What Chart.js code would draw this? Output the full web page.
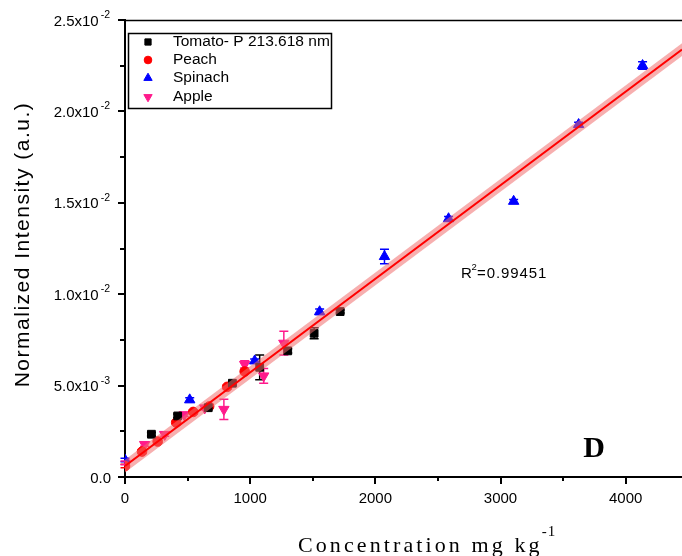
<!DOCTYPE html>
<html>
<head>
<meta charset="utf-8">
<script src="https://cdn.jsdelivr.net/npm/chart.js@4.4.1/dist/chart.umd.min.js"></script>
<style>
  html, body { margin: 0; padding: 0; background: #fff; overflow: hidden; }
  #wrap { width: 682px; height: 556px; }
</style>
</head>
<body>
<div id="wrap"><canvas id="chart" width="682" height="556"></canvas></div>
<script>
// values
const tomatoX = [211, 421, 665, 858, 1076, 1300, 1511, 1719]
const tomatoY = [0.00234, 0.00334, 0.00379, 0.00513, 0.00600, 0.00690, 0.00786, 0.00905]
const tomatoErr = [0.0001, 0.0001, 0.0001, 0.0001, 0.00068, 0.00012, 0.0003, 0.00008]

const peachX = [0, 136, 261, 409, 545, 672, 816, 956]
const peachY = [0.00060, 0.00139, 0.00194, 0.00298, 0.00356, 0.00386, 0.00493, 0.00577]
const peachErr = [0.0001, 0.0001, 0.0001, 0.0001, 0.0001, 0.0001, 0.0001, 0.0001]

const spinachX = [0, 517, 1036, 1555, 2073, 2585, 3105, 3624, 4135]
const spinachY = [0.00093, 0.00422, 0.00635, 0.00904, 0.01206, 0.01413, 0.01508, 0.01928, 0.02251]
const spinachErr = [0.0001, 0.00012, 0.0001, 0.00015, 0.0004, 0.00012, 0.0001, 0.00012, 0.0002]

const appleX = [0, 157, 317, 473, 637, 790, 956, 1108, 1269]
const appleY = [0.00077, 0.00178, 0.00233, 0.00341, 0.00378, 0.00370, 0.00616, 0.00553, 0.00732]
const appleErr = [0.0001, 0.0001, 0.0001, 0.0001, 0.0001, 0.00055, 0.0002, 0.0004, 0.00065]

// fitted line and its band, end points
const fitX = [0, 4450]
const fitY = [0.00060, 0.02338]
const bandLowY = [0.00025, 0.02303]
const bandHighY = [0.00095, 0.02373]

const xTicks = [0, 1000, 2000, 3000, 4000]
const yTicks = [0, 0.005, 0.01, 0.015, 0.02, 0.025]
const yTickLabels = [["0.0", ""], ["5.0x10", "-3"], ["1.0x10", "-2"], ["1.5x10", "-2"], ["2.0x10", "-2"], ["2.5x10", "-2"]]

const series = [
  { label: "Tomato- P 213.618 nm", xs: tomatoX, ys: tomatoY, errs: tomatoErr, color: "#000000", style: "rect", radius: 5.5, rotation: 0 },
  { label: "Peach", xs: peachX, ys: peachY, errs: peachErr, color: "#ff0000", style: "circle", radius: 4.8, rotation: 0 },
  { label: "Spinach", xs: spinachX, ys: spinachY, errs: spinachErr, color: "#0000ff", style: "triangle", radius: 6, rotation: 0 },
  { label: "Apple", xs: appleX, ys: appleY, errs: appleErr, color: "#ff1a8c", style: "triangle", radius: 6, rotation: 180 }
]

const toPoints = (xs, ys) => xs.map((x, i) => ({ x: x, y: ys[i] }))

const pointSets = series.map((s) => ({
  label: s.label,
  data: toPoints(s.xs, s.ys),
  showLine: false,
  pointStyle: s.style,
  pointRotation: s.rotation,
  pointRadius: s.radius,
  backgroundColor: s.color,
  borderColor: s.color,
  borderWidth: 1,
  order: 2
}))

const fitSets = [
  { label: "band high", data: toPoints(fitX, bandHighY), showLine: true, pointRadius: 0, borderWidth: 0, borderColor: "rgba(0,0,0,0)", fill: false, order: 1 },
  { label: "band low", data: toPoints(fitX, bandLowY), showLine: true, pointRadius: 0, borderWidth: 0, borderColor: "rgba(0,0,0,0)", backgroundColor: "rgba(240,110,110,0.55)", fill: "-1", order: 1 },
  { label: "fit", data: toPoints(fitX, fitY), showLine: true, pointRadius: 0, borderWidth: 2, borderColor: "#ff0000", fill: false, order: 0 }
]

const errorBars = {
  id: "errorBars",
  beforeDatasetsDraw(chart) {
    const ctx = chart.ctx
    const xs = chart.scales.x
    const ys = chart.scales.y
    ctx.save()
    ctx.lineWidth = 1.5
    series.forEach((s) => {
      ctx.strokeStyle = s.color
      s.xs.forEach((x, i) => {
        const px = xs.getPixelForValue(x)
        const top = ys.getPixelForValue(s.ys[i] + s.errs[i])
        const bot = ys.getPixelForValue(s.ys[i] - s.errs[i])
        ctx.beginPath()
        ctx.moveTo(px, top); ctx.lineTo(px, bot)
        ctx.moveTo(px - 4.5, top); ctx.lineTo(px + 4.5, top)
        ctx.moveTo(px - 4.5, bot); ctx.lineTo(px + 4.5, bot)
        ctx.stroke()
      })
    })
    ctx.restore()
  }
}

const decorations = {
  id: "decorations",
  afterDraw(chart) {
    const ctx = chart.ctx
    const area = chart.chartArea
    const xs = chart.scales.x
    const ys = chart.scales.y
    ctx.save()
    ctx.strokeStyle = "#000"
    ctx.fillStyle = "#000"

    // top frame
    ctx.lineWidth = 1.5
    ctx.beginPath()
    ctx.moveTo(area.left, area.top + 0.5)
    ctx.lineTo(area.right, area.top + 0.5)
    ctx.stroke()

    // tick marks
    ctx.lineWidth = 2
    ctx.beginPath()
    for (let v = 0; v <= 4500; v += 500) {
      const px = Math.round(xs.getPixelForValue(v))
      if (px > area.right) break
      const len = v % 1000 === 0 ? 7 : 4
      ctx.moveTo(px, area.bottom)
      ctx.lineTo(px, area.bottom + len)
    }
    for (let k = 0; k <= 10; k++) {
      const py = Math.round(ys.getPixelForValue(k * 0.0025))
      const len = k % 2 === 0 ? 7 : 5
      ctx.moveTo(area.left, py)
      ctx.lineTo(area.left - len, py)
    }
    ctx.stroke()

    // x tick labels
    ctx.font = "15px 'Liberation Sans', Arial, sans-serif"
    ctx.textAlign = "center"
    ctx.textBaseline = "middle"
    xTicks.forEach((v) => {
      ctx.fillText(String(v), xs.getPixelForValue(v), 499)
    })

    // y tick labels with exponents
    ctx.textAlign = "left"
    ctx.textBaseline = "alphabetic"
    yTicks.forEach((v, i) => {
      const [main, sup] = yTickLabels[i]
      const py = ys.getPixelForValue(v)
      ctx.font = "10.5px 'Liberation Sans', Arial, sans-serif"
      const supW = sup ? ctx.measureText(sup).width + 3 : 0
      ctx.font = "15px 'Liberation Sans', Arial, sans-serif"
      const mainW = ctx.measureText(main).width
      const right = 111
      ctx.fillText(main, right - supW - mainW, py + 5.5)
      if (sup) {
        ctx.font = "10.5px 'Liberation Sans', Arial, sans-serif"
        ctx.fillText(sup, right - supW + 2, py - 2)
      }
    })

    // y axis title
    ctx.save()
    ctx.translate(23, (area.top + area.bottom) / 2 - 4)
    ctx.rotate(-Math.PI / 2)
    ctx.font = "21px 'Liberation Sans', Arial, sans-serif"
    ctx.letterSpacing = "1.5px"
    ctx.textAlign = "center"
    ctx.textBaseline = "middle"
    ctx.fillText("Normalized Intensity (a.u.)", 0, 0)
    ctx.restore()

    // x axis title
    ctx.font = "22px 'Liberation Serif', 'Times New Roman', serif"
    ctx.letterSpacing = "3.1px"
    ctx.textAlign = "left"
    ctx.textBaseline = "alphabetic"
    ctx.fillText("Concentration mg kg", 298, 552)
    const tw = ctx.measureText("Concentration mg kg").width
    ctx.font = "15px 'Liberation Serif', 'Times New Roman', serif"
    ctx.letterSpacing = "1px"
    ctx.fillText("-1", 298 + tw - 1, 536)
    ctx.letterSpacing = "0px"

    // R squared note
    ctx.font = "15px 'Liberation Sans', Arial, sans-serif"
    ctx.fillText("R", 461, 278)
    ctx.font = "9.5px 'Liberation Sans', Arial, sans-serif"
    ctx.fillText("2", 471.5, 270)
    ctx.font = "15px 'Liberation Sans', Arial, sans-serif"
    ctx.letterSpacing = "0.9px"
    ctx.fillText("=0.99451", 477, 278)
    ctx.letterSpacing = "0px"

    // panel letter
    ctx.font = "bold 30px 'Liberation Serif', 'Times New Roman', serif"
    ctx.textAlign = "center"
    ctx.fillText("D", 594, 457)

    // legend
    ctx.lineWidth = 1.5
    ctx.strokeRect(128.5, 33.5, 203, 75)
    const rows = [42, 60, 78, 97]
    series.forEach((s, i) => {
      ctx.fillStyle = s.color
      ctx.strokeStyle = s.color
      ctx.lineWidth = 1
      Chart.helpers.drawPoint(ctx, { pointStyle: s.style, radius: s.radius * 0.8, rotation: s.rotation, borderWidth: 1 }, 148, rows[i])
      ctx.fillStyle = "#000"
      ctx.font = "15.5px 'Liberation Sans', Arial, sans-serif"
      ctx.textAlign = "left"
      ctx.textBaseline = "middle"
      ctx.fillText(s.label, 173, rows[i])
    })
    ctx.restore()
  }
}

new Chart(document.getElementById("chart"), {
  type: "scatter",
  data: { datasets: pointSets.concat(fitSets) },
  options: {
    responsive: false,
    animation: false,
    layout: { autoPadding: false, padding: { left: 125, right: 0, top: 20, bottom: 79 } },
    plugins: { legend: { display: false }, tooltip: { enabled: false } },
    scales: {
      x: {
        type: "linear",
        min: 0,
        max: 4450,
        grid: { display: false, drawTicks: false },
        border: { display: true, color: "#000", width: 2 },
        ticks: { display: false }
      },
      y: {
        type: "linear",
        min: 0,
        max: 0.025,
        grid: { display: false, drawTicks: false },
        border: { display: true, color: "#000", width: 2 },
        ticks: { display: false }
      }
    }
  },
  plugins: [errorBars, decorations]
})
</script>
</body>
</html>
